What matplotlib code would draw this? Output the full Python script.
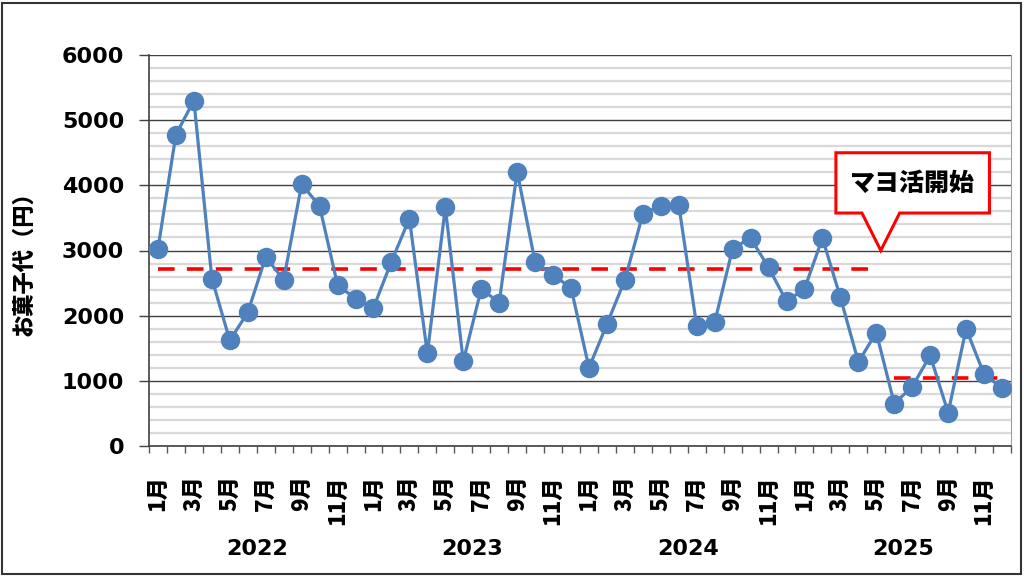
import numpy as np
import matplotlib.pyplot as plt
from matplotlib.patches import Polygon, Rectangle
from matplotlib.ticker import MultipleLocator, FixedLocator
import matplotlib.transforms as mtransforms

# monthly snack spending (yen), Jan 2022 - Dec 2025
years = ['2022', '2023', '2024', '2025']
months = [f'{m}月' for m in range(1, 13)]
spend_2022 = [3030, 4780, 5300, 2570, 1620, 2050, 2900, 2550, 4020, 3680, 2470, 2260]
spend_2023 = [2120, 2830, 3490, 1420, 3660, 1300, 2410, 2200, 4210, 2820, 2620, 2430]
spend_2024 = [1200, 1870, 2550, 3560, 3690, 3700, 1840, 1900, 3030, 3190, 2740, 2220]
spend_2025 = [2410, 3190, 2280, 1290, 1740, 650, 910, 1390, 510, 1800, 1100, 890]

# average lines: before / after start (index range in months)
avg_before = 2710
avg_before_range = (0, 40)
avg_after = 1050
avg_after_range = (41, 47)

callout_text = 'マヨ活開始'
callout_index = 40.25
callout_value = 3000

spend = spend_2022 + spend_2023 + spend_2024 + spend_2025
x = np.arange(len(spend))

jp = ['Noto Sans CJK JP', 'DejaVu Sans']

fig = plt.figure(figsize=(10.24, 5.76), dpi=100)
ax = fig.add_axes([149/1024, 1-446/576, (1011-149)/1024, (446-55)/576])

# grid
ax.set_ylim(0, 6000)
ax.set_xlim(-0.5, len(spend)-0.5)
ax.yaxis.set_major_locator(MultipleLocator(1000))
ax.yaxis.set_minor_locator(MultipleLocator(200))
ax.grid(axis='y', which='minor', color='#d9d9d9', lw=1.6, zorder=0)
ax.grid(axis='y', which='major', color='#404040', lw=1.0, zorder=0.5)

# mean lines
ax.plot(avg_before_range, [avg_before]*2, color='#ff0000', lw=2.6,
        dashes=(4.6, 3.4), dash_capstyle='butt', zorder=2)
ax.plot(avg_after_range, [avg_after]*2, color='#ff0000', lw=2.6,
        dashes=(4.6, 3.4), dash_capstyle='butt', zorder=2)

# data
ax.plot(x, spend, color='#4f81bd', lw=2.3, marker='o', ms=13,
        markerfacecolor='#4f81bd', markeredgecolor='#4f81bd', zorder=3)

# ticks
ax.xaxis.set_major_locator(FixedLocator(x[::2]))
ax.set_xticklabels([months[i % 12] for i in x[::2]], rotation=90,
                   family=jp, fontweight='heavy', fontsize=16)
ax.xaxis.set_minor_locator(FixedLocator(np.arange(-0.5, len(spend), 1)))
ax.tick_params(axis='x', which='major', length=0, pad=21)
ax.tick_params(axis='x', which='minor', length=5, color='#595959', width=1)
ax.tick_params(axis='y', which='major', length=7, color='#404040', width=1,
               labelsize=16, pad=11)
ax.tick_params(axis='y', which='minor', length=0)
for t in ax.get_yticklabels():
    t.set_fontweight('bold')

for s in ['left', 'bottom']:
    ax.spines[s].set_color('#404040')
    ax.spines[s].set_linewidth(1.2)
ax.spines['top'].set_visible(False)
ax.spines['right'].set_color('#a0a0a0')

ax.set_ylabel('お菓子代（円）', family=jp, fontweight='heavy', fontsize=16)
ax.yaxis.set_label_coords(-114/862, 0.48)

# year labels
trans = mtransforms.blended_transform_factory(ax.transData, fig.transFigure)
for i, yr in enumerate(years):
    ax.text(i*12 + 5.5, 1-549/576, yr, transform=trans, ha='center', va='center',
            fontsize=16, fontweight='bold')

# callout box
bx0, bx1 = 37.75, 46.3
by0, by1 = 3575, 4500
px0, px1 = 39.2, 41.3
poly = Polygon([(bx0, by1), (bx1, by1), (bx1, by0), (px1, by0),
                (callout_index, callout_value), (px0, by0), (bx0, by0)],
               closed=True, facecolor='white', edgecolor='#ff0000', lw=2.2, zorder=4)
ax.add_patch(poly)
ax.text((bx0+bx1)/2, (by0+by1)/2, callout_text, ha='center', va='center',
        family=jp, fontweight='heavy', fontsize=18, zorder=5)

# outer frame
fig.patches.append(Rectangle((2/1024, 2/576), 1019/1024, 571/576, transform=fig.transFigure,
                             fill=False, edgecolor='#333333', lw=1.5))

fig.savefig('out.png', dpi=100)
